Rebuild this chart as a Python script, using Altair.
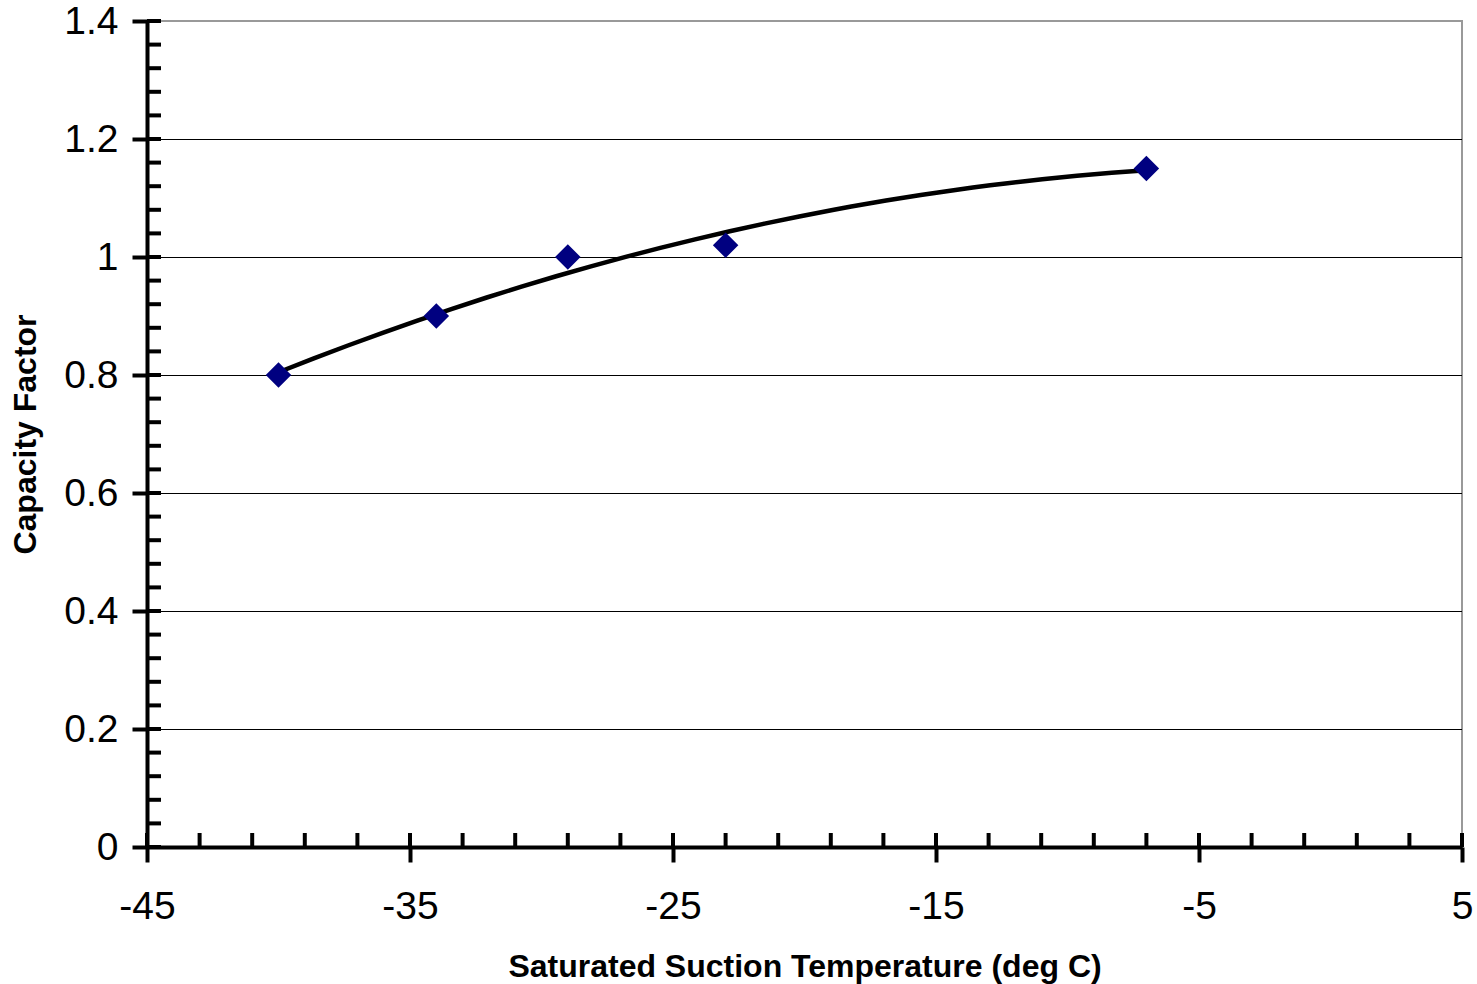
import altair as alt
import pandas as pd

# Data
temps = [-40, -34, -29, -23, -7]
capacity = [0.80, 0.90, 1.00, 1.02, 1.15]

x_major = [-45, -35, -25, -15, -5, 5]
y_major = [0, 0.2, 0.4, 0.6, 0.8, 1.0, 1.2, 1.4]
y_grid = [0.2, 0.4, 0.6, 0.8, 1.0, 1.2]
x_inner_ticks = [-45, -43, -41, -39, -37, -35, -33, -31, -29, -27, -25, -23, -21,
                 -19, -17, -15, -13, -11, -9, -7, -5, -3, -1, 1, 3, 5]
y_inner_ticks = [0.0, 0.04, 0.08, 0.12, 0.16, 0.2, 0.24, 0.28, 0.32, 0.36, 0.4,
                 0.44, 0.48, 0.52, 0.56, 0.6, 0.64, 0.68, 0.72, 0.76, 0.8, 0.84,
                 0.88, 0.92, 0.96, 1.0, 1.04, 1.08, 1.12, 1.16, 1.2, 1.24, 1.28,
                 1.32, 1.36, 1.4]

W, H = 1315, 826
FONT = "Liberation Sans"

df = pd.DataFrame({"t": temps, "c": capacity})

xscale = alt.Scale(domain=[-45, 5], nice=False, zero=False)
yscale = alt.Scale(domain=[0, 1.4], nice=False, zero=False)

xaxis = alt.Axis(
    values=x_major, labelExpr="'' + datum.value", grid=False, labelFlush=False,
    domainColor="black", domainWidth=4, tickColor="black", tickWidth=4, tickSize=15,
    labelFont=FONT, labelFontSize=39, labelColor="black", labelPadding=25,
    title="Saturated Suction Temperature (deg C)", titleFont=FONT, titleFontSize=32,
    titleFontWeight="bold", titleColor="black", titleBaseline="alphabetic",
    titleY=129, titleX=W / 2, zindex=2,
)
yaxis = alt.Axis(
    values=y_major, format="~g", grid=False, labelFlush=False,
    domainColor="black", domainWidth=4, tickColor="black", tickWidth=4, tickSize=15,
    labelFont=FONT, labelFontSize=39, labelColor="black", labelPadding=14,
    title="Capacity Factor", titleFont=FONT, titleFontSize=32,
    titleFontWeight="bold", titleColor="black", titleBaseline="alphabetic",
    titleX=-112, titleY=H / 2, titleAngle=270, zindex=2,
)

grid = alt.Chart(pd.DataFrame({"g": y_grid})).mark_rule(
    color="black", strokeWidth=1, yOffset=0.5).encode(
    y=alt.Y("g:Q", scale=yscale, axis=yaxis),
    x=alt.value(0), x2=alt.value(W),
)

trend = alt.Chart(df).transform_regression(
    "t", "c", method="poly", order=2, extent=[-40, -7]
).mark_line(color="black", strokeWidth=4.5).encode(
    x=alt.X("t:Q", scale=xscale, axis=xaxis),
    y=alt.Y("c:Q", scale=yscale),
)

points = alt.Chart(df).mark_point(shape="diamond", filled=True, size=650,
                                  color="#000080", opacity=1).encode(
    x=alt.X("t:Q", scale=xscale),
    y=alt.Y("c:Q", scale=yscale),
)

yticks = alt.Chart(pd.DataFrame({"v": y_inner_ticks})).mark_rule(
    color="black", strokeWidth=4, strokeCap="butt").encode(
    y=alt.Y("v:Q", scale=yscale),
    x=alt.value(0), x2=alt.value(14),
)

xticks = alt.Chart(pd.DataFrame({"v": x_inner_ticks})).mark_rule(
    color="black", strokeWidth=4, strokeCap="butt").encode(
    x=alt.X("v:Q", scale=xscale),
    y=alt.value(H), y2=alt.value(H - 14),
)

chart = alt.layer(grid, trend, points, yticks, xticks).properties(
    width=W, height=H,
    autosize=alt.AutoSizeParams(type="none"),
    padding={"left": 147, "top": 21, "right": 15, "bottom": 137},
    background="white",
).configure_view(stroke="#999999", strokeWidth=2)

chart.save("out.html", embed_options={"renderer": "svg", "actions": False})
